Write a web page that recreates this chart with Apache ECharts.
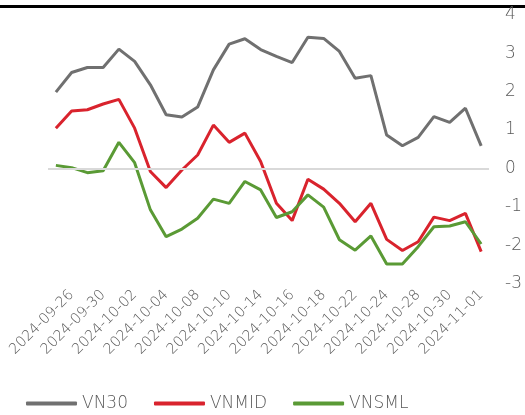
<!DOCTYPE html>
<html lang="en">
<head>
    <meta charset="UTF-8">
    <title>VN30 / VNMID / VNSML</title>
    <script src="https://cdn.jsdelivr.net/npm/echarts@6/dist/echarts.min.js"></script>
    <style>
        html, body { margin: 0; padding: 0; background: #fff; }
    </style>
</head>
<body>
    <div id="main" style="width: 525px;height: 415px"></div>
    <script type="application/javascript">
        // trading days
        var dates = ['2024-09-25', '2024-09-26', '2024-09-27', '2024-09-30', '2024-10-01', '2024-10-02',
            '2024-10-03', '2024-10-04', '2024-10-07', '2024-10-08', '2024-10-09', '2024-10-10',
            '2024-10-11', '2024-10-14', '2024-10-15', '2024-10-16', '2024-10-17', '2024-10-18',
            '2024-10-21', '2024-10-22', '2024-10-23', '2024-10-24', '2024-10-25', '2024-10-28',
            '2024-10-29', '2024-10-30', '2024-10-31', '2024-11-01'];
        var vn30 = [1.99, 2.50, 2.63, 2.63, 3.11, 2.79, 2.18, 1.40, 1.34, 1.60, 2.57, 3.24, 3.38, 3.10,
            2.92, 2.76, 3.42, 3.39, 3.05, 2.35, 2.42, 0.87, 0.59, 0.81, 1.35, 1.20, 1.57, 0.59];
        var vnmid = [1.05, 1.50, 1.53, 1.68, 1.80, 1.05, -0.08, -0.50, -0.04, 0.35, 1.13, 0.68, 0.92, 0.18,
            -0.91, -1.36, -0.28, -0.54, -0.91, -1.39, -0.91, -1.85, -2.14, -1.91, -1.27, -1.36, -1.17, -2.17];
        var vnsml = [0.08, 0.02, -0.11, -0.06, 0.68, 0.15, -1.08, -1.78, -1.58, -1.30, -0.80, -0.91, -0.34, -0.56,
            -1.28, -1.13, -0.69, -1.01, -1.86, -2.13, -1.76, -2.49, -2.49, -2.04, -1.52, -1.50, -1.39, -1.97];
        var yTicks = [-3, -2, -1, 0, 1, 2, 3, 4];

        var font = 'DejaVu Sans';
        var myChart = echarts.init(document.getElementById("main"));

        function line(name, data, color) {
            return {
                name: name,
                type: 'line',
                data: data,
                symbol: 'none',
                lineStyle: { width: 3, color: color },
                itemStyle: { color: color }
            };
        }

        var series = [
            line('VN30', vn30, '#707070'),
            line('VNMID', vnmid, '#d9232d'),
            line('VNSML', vnsml, '#5a9a35')
        ];
        // zero line
        series[0].markLine = {
            silent: true,
            symbol: 'none',
            label: { show: false },
            lineStyle: { color: '#d9d9d9', width: 2, type: 'solid' },
            data: [{ yAxis: 0 }]
        };

        var option = {
            animation: false,
            grid: { left: 48, right: 33, top: 15, bottom: 131.5 },
            legend: {
                data: ['VN30', 'VNMID', 'VNSML'],
                left: 26,
                top: 395,
                padding: 0,
                icon: 'roundRect',
                itemWidth: 51,
                itemHeight: 4,
                itemGap: 26,
                textStyle: { fontFamily: font, fontWeight: 300, fontSize: 17, color: '#595959' }
            },
            xAxis: {
                type: 'category',
                data: dates,
                boundaryGap: true,
                axisLine: { show: false },
                axisTick: { show: false },
                axisLabel: {
                    interval: function (idx) { return idx % 2 === 1; },
                    rotate: 45,
                    margin: 9,
                    fontFamily: font,
                    fontWeight: 300,
                    fontSize: 14.5,
                    color: '#595959'
                }
            },
            yAxis: {
                type: 'value',
                position: 'right',
                min: yTicks[0],
                max: yTicks[yTicks.length - 1],
                interval: 1,
                splitLine: { show: false },
                axisLine: { show: false },
                axisTick: { show: false },
                axisLabel: { margin: 16, fontFamily: font, fontWeight: 300, fontSize: 17, color: '#595959' }
            },
            graphic: [{
                type: 'rect',
                shape: { x: 0, y: 5, width: 525, height: 3 },
                style: { fill: '#000' }
            }],
            series: series
        };
        myChart.setOption(option, true);
    </script>
</body>
</html>
